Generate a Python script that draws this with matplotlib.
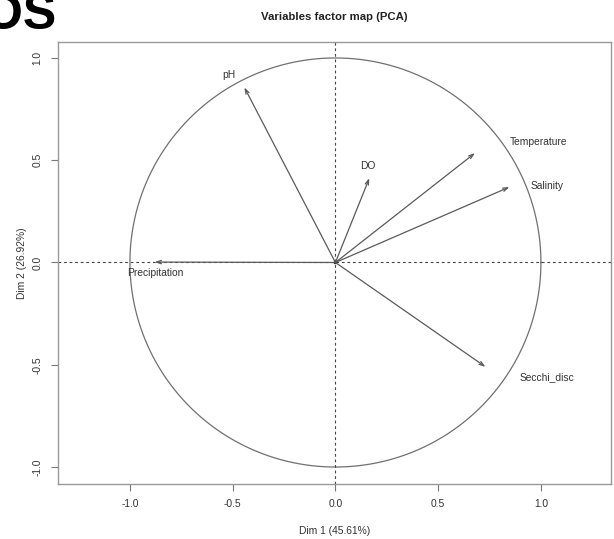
import numpy as np
import matplotlib
matplotlib.use("Agg")
import matplotlib.pyplot as plt

plt.rcParams['font.family'] = ['Liberation Sans', 'DejaVu Sans']

# variable coordinates on Dim 1 / Dim 2
variables = ['pH', 'DO', 'Temperature', 'Salinity', 'Secchi_disc', 'Precipitation']
dim1 = [-0.443, 0.165, 0.679, 0.847, 0.730, -0.880]
dim2 = [0.856, 0.412, 0.535, 0.369, -0.510, 0.002]
# where the labels sit
lab_x = [-0.52, 0.16, 0.99, 1.03, 1.03, -0.876]
lab_y = [0.917, 0.47, 0.59, 0.376, -0.56, -0.05]

dim1_pct = 45.61
dim2_pct = 26.92

fig = plt.figure(figsize=(6.14, 5.39), dpi=100)
ax = fig.add_axes([58/614, 55/539, 553/614, 442/539])

grey = '#5a5a5a'
txt = '#333333'

t = np.linspace(0, 2*np.pi, 400)
ax.plot(np.cos(t), np.sin(t), color='#707070', lw=0.9)

ax.axhline(0, color='#444444', lw=0.8, ls=(0, (2.5, 2.5)))
ax.axvline(0, color='#444444', lw=0.8, ls=(0, (2.5, 2.5)))

for x, y in zip(dim1, dim2):
    ax.annotate('', xy=(x, y), xytext=(0, 0),
                arrowprops=dict(arrowstyle='->,head_length=0.35,head_width=0.12',
                                color=grey, lw=0.9, shrinkA=0, shrinkB=0))
ax.plot(0, 0, 's', color='#222222', ms=2)

for name, x, y in zip(variables, lab_x, lab_y):
    ax.text(x, y, name, ha='center', va='center', fontsize=7.4, color=txt)

ax.set_xlim(-1.350, 1.341)
ax.set_ylim(-1.083, 1.078)
ax.set_xticks([-1.0, -0.5, 0.0, 0.5, 1.0])
ax.set_yticks([-1.0, -0.5, 0.0, 0.5, 1.0])
ax.set_xticklabels(['-1.0', '-0.5', '0.0', '0.5', '1.0'])
ax.set_yticklabels(['-1.0', '-0.5', '0.0', '0.5', '1.0'], rotation=90, va='center')
ax.tick_params(length=5, width=0.8, color='#777777', labelcolor=txt, labelsize=7.4, pad=6)
for s in ax.spines.values():
    s.set_color('#999999')
    s.set_linewidth(1.0)

ax.set_xlabel(f'Dim 1 ({dim1_pct:.2f}%)', fontsize=7.4, color=txt, labelpad=12)
ax.set_ylabel(f'Dim 2 ({dim2_pct:.2f}%)', fontsize=7.4, color=txt, labelpad=4)
ax.set_title('Variables factor map (PCA)', fontsize=8.2, fontweight='bold', color='#222222', pad=16)

# cropped panel heading at top left
fig.text(56/614, 1 - 29/539, 'OS', ha='right', va='baseline',
         fontsize=36, fontweight='bold', color='black')

fig.savefig('out.png', dpi=100)
